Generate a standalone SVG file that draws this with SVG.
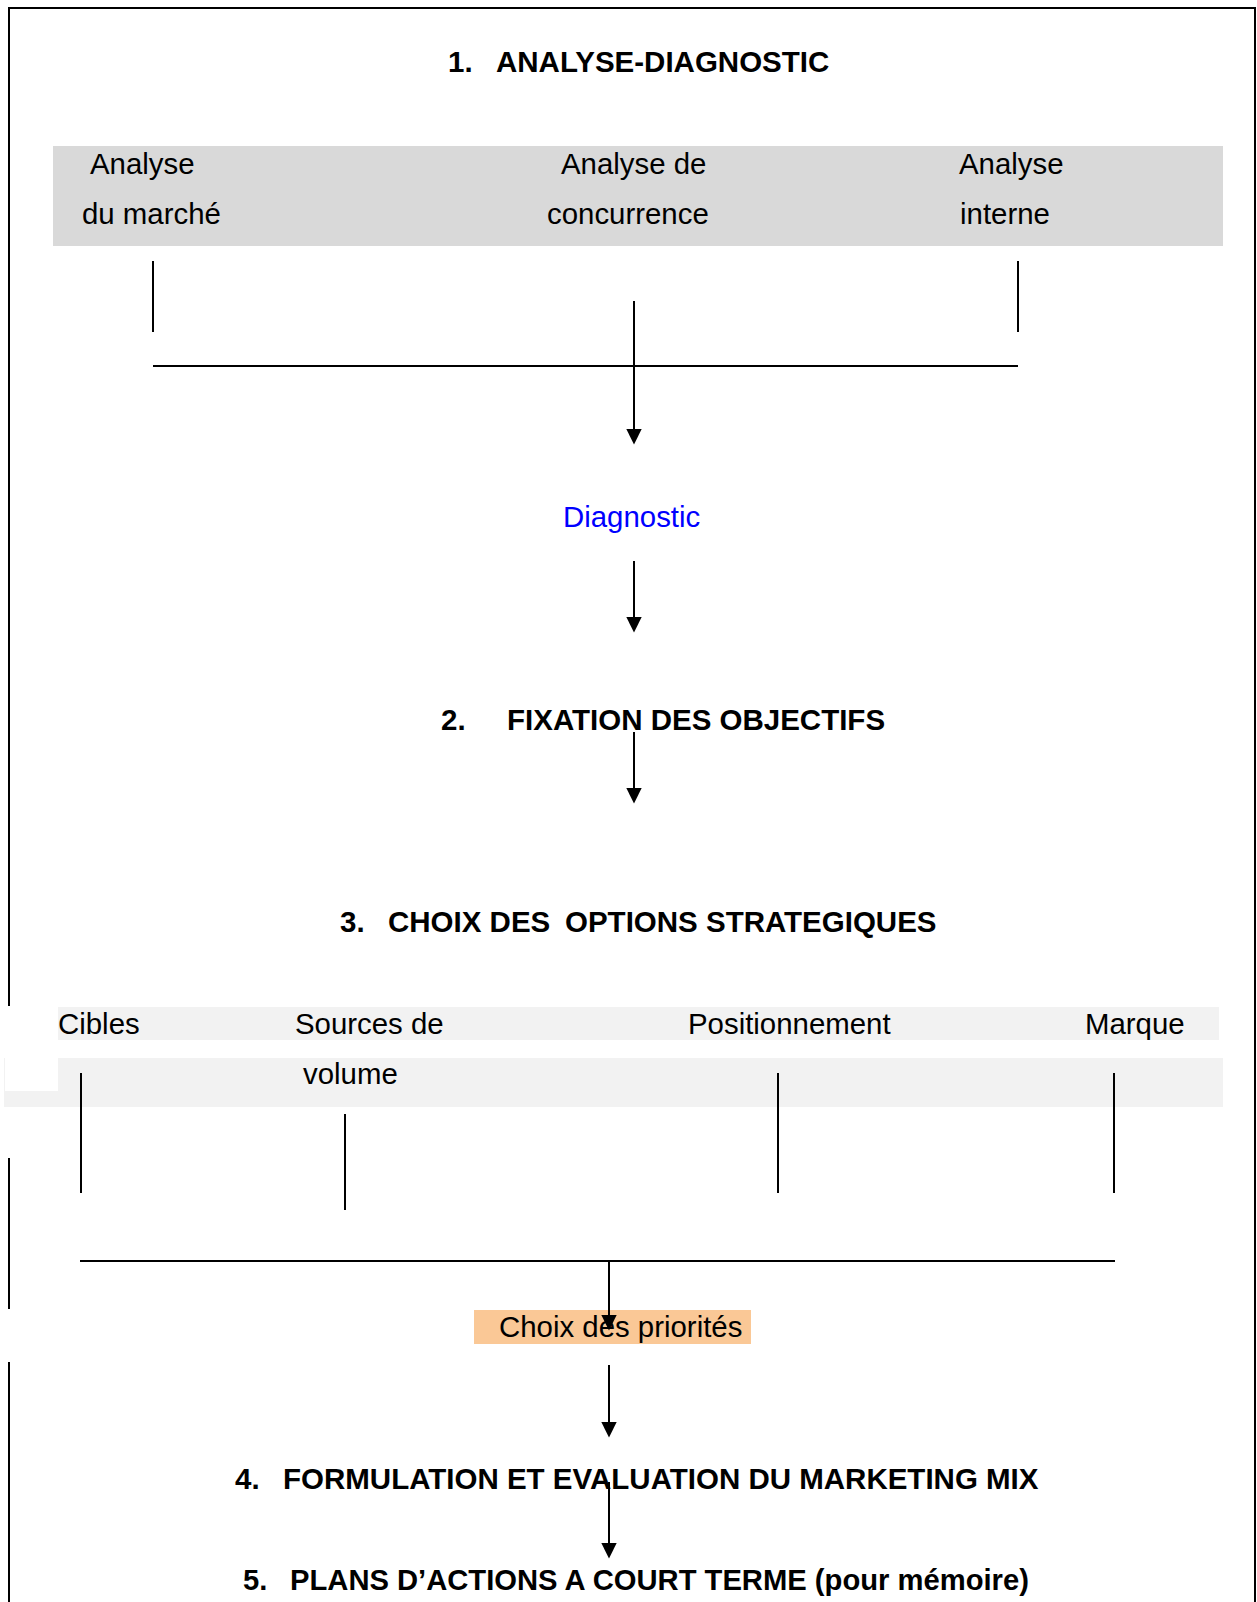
<svg xmlns="http://www.w3.org/2000/svg" width="1257" height="1602" viewBox="0 0 1257 1602">
<defs>
<marker id="ah" markerUnits="userSpaceOnUse" markerWidth="16" markerHeight="16" refX="0" refY="8" orient="auto">
<path d="M0,0.3 L15.5,8 L0,15.7 z" fill="#000"/>
</marker>
<style>
text{font-family:"Liberation Sans",Arial,sans-serif;font-size:29.4px;fill:#000}
.b{font-weight:bold;font-size:29.5px}
.ln{stroke:#000;stroke-width:2;fill:none}
.ar{stroke:#000;stroke-width:2;fill:none;marker-end:url(#ah)}
.fr{stroke:#000;stroke-width:2;fill:none}
</style>
</defs>
<rect width="1257" height="1602" fill="#fff"/>
<g id="frame">
<line class="fr" x1="8" y1="8" x2="1256" y2="8"/>
<line class="fr" x1="1255" y1="8" x2="1255" y2="1602"/>
<line class="fr" x1="9" y1="8" x2="9" y2="1006"/>
<line class="fr" x1="9" y1="1158" x2="9" y2="1309"/>
<line class="fr" x1="9" y1="1362" x2="9" y2="1602"/>
</g>
<g id="title1"><text class="b" y="72"><tspan x="448">1.</tspan><tspan x="496">ANALYSE-DIAGNOSTIC</tspan></text></g>
<g id="analyses">
<rect x="53" y="146" width="1170" height="100" fill="#d9d9d9"/>
<g id="marche"><text x="90" y="174">Analyse</text><text x="82" y="224">du marché</text></g>
<g id="concurrence"><text x="561" y="174">Analyse de</text><text x="547" y="224">concurrence</text></g>
<g id="interne"><text x="959" y="174">Analyse</text><text x="960" y="224">interne</text></g>
</g>
<g id="diagnostic"><text x="563" y="527" style="fill:#0000ff">Diagnostic</text></g>
<g id="title2"><text class="b" y="730"><tspan x="441">2.</tspan><tspan x="507">FIXATION DES OBJECTIFS</tspan></text></g>
<g id="title3"><text class="b" y="932"><tspan x="340">3.</tspan><tspan x="388">CHOIX DES</tspan><tspan x="565">OPTIONS STRATEGIQUES</tspan></text></g>
<g id="options">
<rect x="58" y="1007" width="1161" height="33" fill="#f2f2f2"/>
<rect x="4" y="1058" width="1219" height="49" fill="#f2f2f2"/>
<rect x="5" y="1058" width="53" height="33" fill="#fff"/>
<g id="cibles"><text x="58" y="1034">Cibles</text></g>
<g id="sources"><text x="295" y="1034">Sources de</text><text x="303" y="1084">volume</text></g>
<g id="positionnement"><text x="688" y="1034">Positionnement</text></g>
<g id="marque"><text x="1085" y="1034">Marque</text></g>
</g>
<g id="priorites">
<rect x="474" y="1310" width="277" height="34" fill="#fac896"/>
<text x="499" y="1337">Choix des priorités</text>
</g>
<g id="title4"><text class="b" y="1489"><tspan x="235">4.</tspan><tspan x="283">FORMULATION ET EVALUATION DU MARKETING MIX</tspan></text></g>
<g id="title5"><text class="b" y="1590" style="font-size:29.2px"><tspan x="243">5.</tspan><tspan x="290">PLANS D’ACTIONS A COURT TERME (pour mémoire)</tspan></text></g>
<g id="connectors">
<line class="ln" x1="153" y1="261" x2="153" y2="332"/>
<line class="ln" x1="1018" y1="261" x2="1018" y2="332"/>
<line class="ln" x1="153" y1="366" x2="1018" y2="366"/>
<line class="ar" x1="634" y1="301" x2="634" y2="429"/>
<line class="ar" x1="634" y1="561" x2="634" y2="617"/>
<line class="ar" x1="634" y1="732" x2="634" y2="788"/>
<line class="ln" x1="81" y1="1073" x2="81" y2="1193"/>
<line class="ln" x1="345" y1="1114" x2="345" y2="1210"/>
<line class="ln" x1="778" y1="1073" x2="778" y2="1193"/>
<line class="ln" x1="1114" y1="1073" x2="1114" y2="1193"/>
<line class="ln" x1="80" y1="1261" x2="1115" y2="1261"/>
<line class="ar" x1="609" y1="1261" x2="609" y2="1315"/>
<line class="ar" x1="609" y1="1365" x2="609" y2="1422"/>
<line class="ar" x1="609" y1="1482" x2="609" y2="1543"/>
</g>
</svg>
